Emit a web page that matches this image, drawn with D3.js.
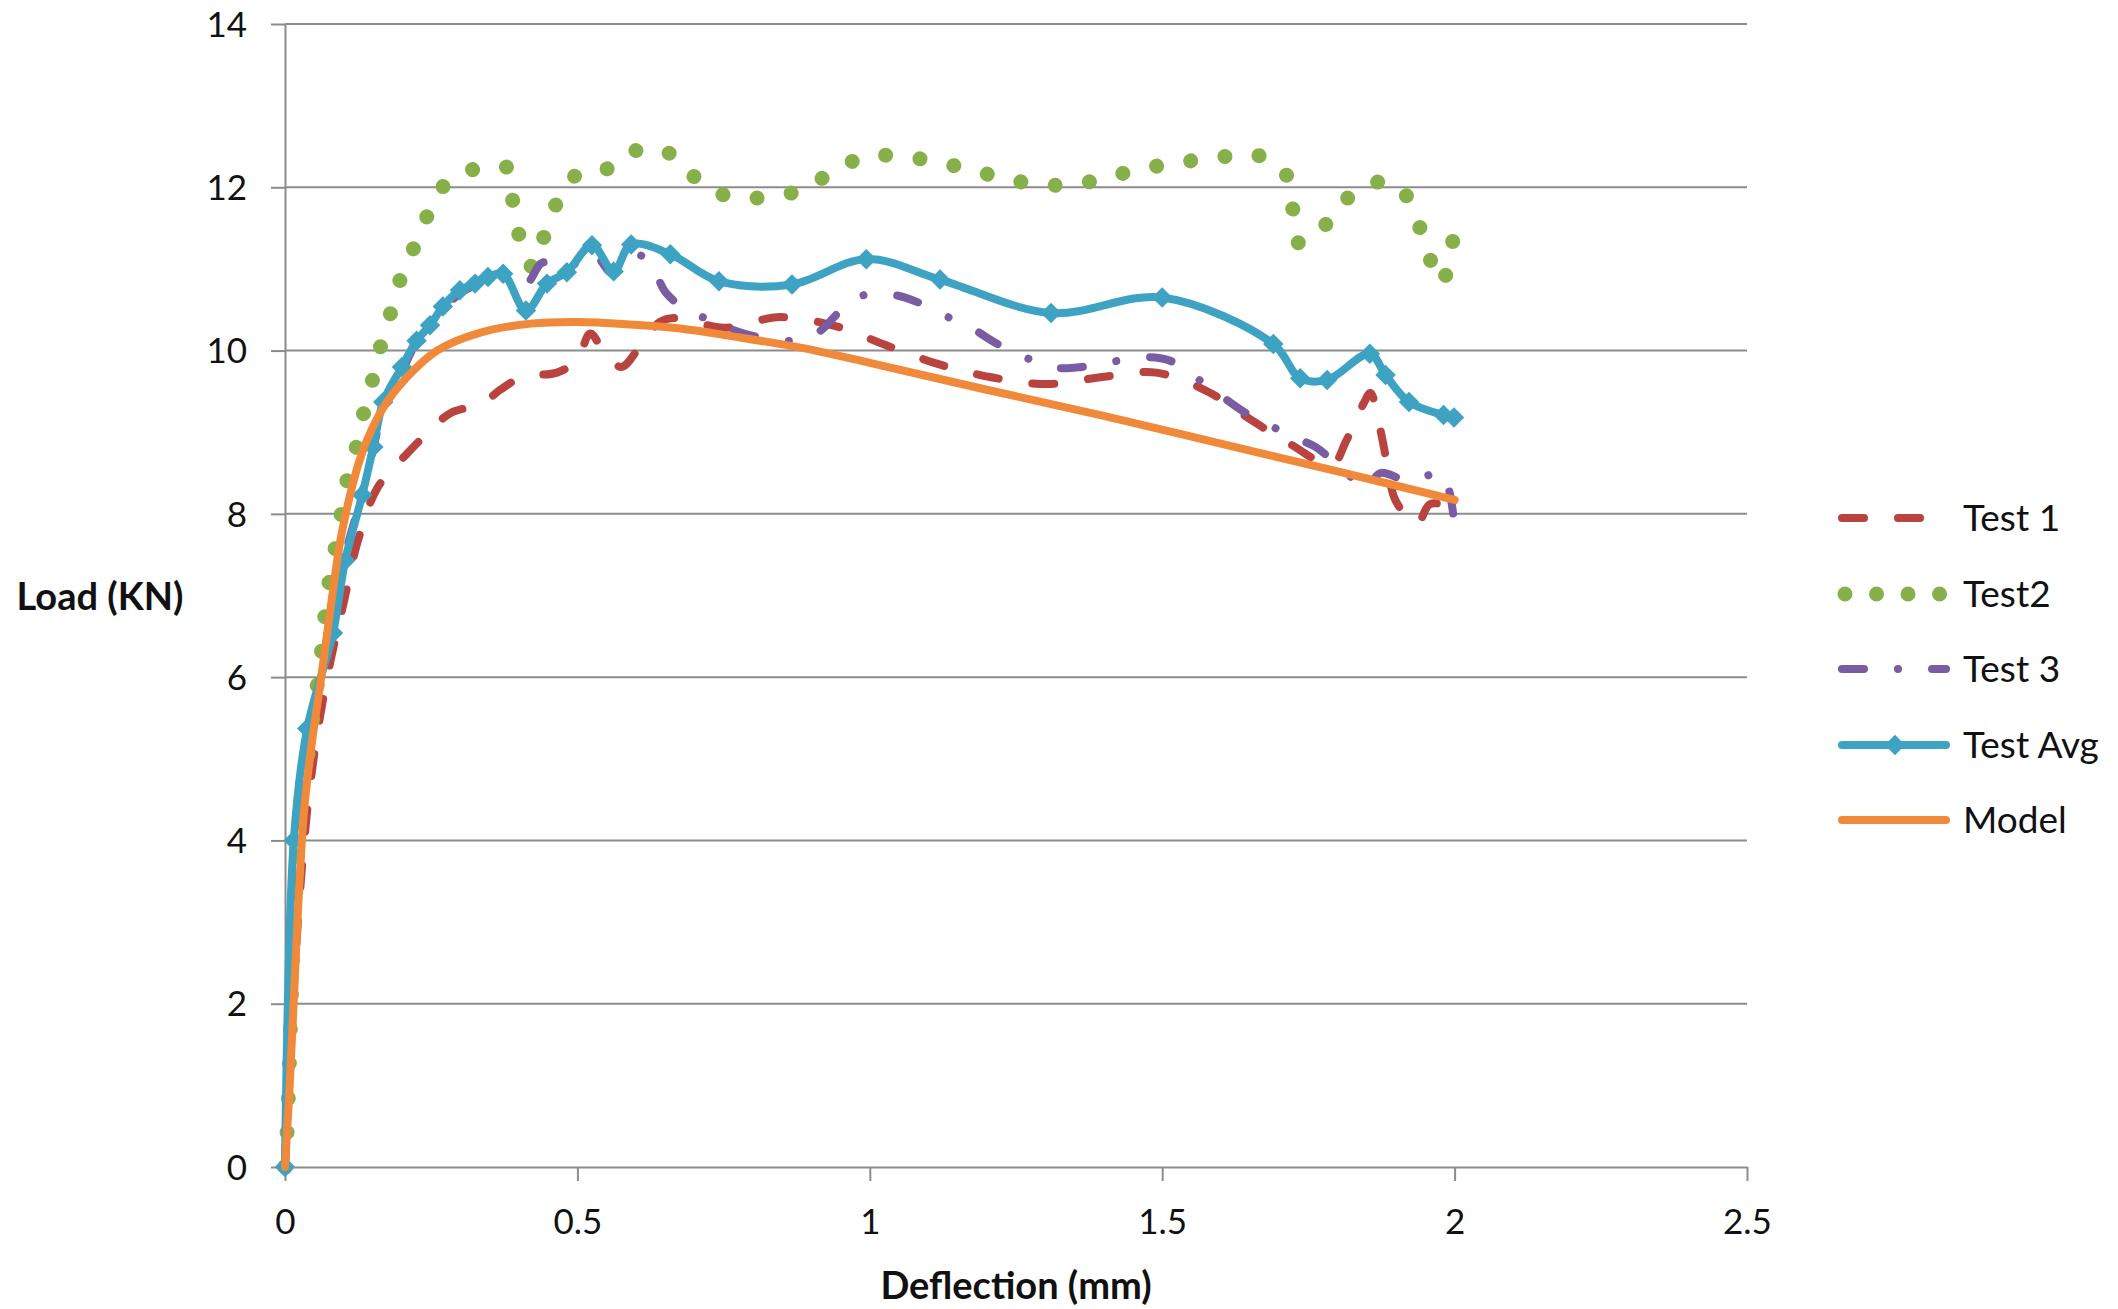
<!DOCTYPE html>
<html>
<head>
<meta charset="utf-8">
<script src="https://cdn.jsdelivr.net/npm/d3@7"></script>
<style>
  body { margin: 0; background: #fff; }
  text { font-family: Lato, "Open Sans", sans-serif; fill: #111; }
  .axis path, .axis line { stroke: #8c8c8c; stroke-width: 2; }
  .grid line { stroke: #8c8c8c; stroke-width: 2; }
</style>
</head>
<body>
<div class="chart"></div>
<script>
// values, [deflection mm, load kN]
var test1 = [[0,0],[0.01,1.5],[0.022,3.0],[0.037,4.3],[0.055,5.3],[0.077,6.17],[0.1,6.9],[0.125,7.68],
  [0.159,8.33],[0.209,8.74],[0.248,9.02],[0.282,9.23],[0.339,9.36],[0.368,9.52],[0.407,9.68],[0.465,9.73],
  [0.499,9.88],[0.522,10.21],[0.544,10.0],[0.575,9.8],[0.607,10.05],[0.641,10.35],[0.67,10.4],[0.75,10.28],
  [0.847,10.41],[0.946,10.29],[1.026,10.07],[1.119,9.83],[1.21,9.67],[1.305,9.59],[1.4,9.68],[1.49,9.73],
  [1.58,9.49],[1.65,9.16],[1.72,8.85],[1.79,8.6],[1.815,8.9],[1.845,9.36],[1.856,9.48],[1.873,9.03],
  [1.885,8.6],[1.9,8.15],[1.936,7.88],[1.958,8.12],[2.0,8.08]];

var test2 = [[0,0],[0.004,0.5],[0.008,1.4],[0.012,2.3],[0.017,3.2],[0.024,4.1],[0.033,4.8],[0.043,5.2],
  [0.051,5.7],[0.06,6.15],[0.072,7.0],[0.082,7.43],[0.094,7.89],[0.103,8.32],[0.12,8.76],[0.133,9.19],
  [0.149,9.62],[0.163,10.04],[0.181,10.47],[0.198,10.89],[0.221,11.27],[0.246,11.69],[0.277,12.06],
  [0.334,12.24],[0.38,12.24],[0.39,11.81],[0.402,11.37],[0.424,11.02],[0.445,11.44],[0.467,11.84],
  [0.505,12.19],[0.559,12.24],[0.611,12.48],[0.667,12.38],[0.71,12.06],[0.763,11.88],[0.824,11.88],
  [0.884,11.97],[0.937,12.19],[0.994,12.38],[1.052,12.38],[1.115,12.31],[1.175,12.21],[1.235,12.1],
  [1.295,12.03],[1.355,12.04],[1.415,12.14],[1.476,12.24],[1.536,12.31],[1.599,12.37],[1.659,12.4],
  [1.709,12.19],[1.723,11.75],[1.733,11.32],[1.767,11.44],[1.803,11.77],[1.853,12.04],[1.902,12.03],
  [1.933,11.65],[1.953,11.23],[1.976,10.83],[1.993,11.12],[1.998,11.55]];

var test3 = [[0,0],[0.012,3.0],[0.022,4.4],[0.04,5.4],[0.08,6.5],[0.1,7.4],[0.13,8.2],[0.151,8.8],
  [0.168,9.3],[0.2,9.75],[0.225,10.1],[0.248,10.3],[0.27,10.5],[0.299,10.7],[0.325,10.8],[0.347,10.88],
  [0.373,10.95],[0.41,10.8],[0.441,11.08],[0.48,11.0],[0.525,11.2],[0.56,10.95],[0.59,11.2],[0.624,11.08],
  [0.65,10.72],[0.68,10.53],[0.727,10.37],[0.76,10.27],[0.8,10.18],[0.87,10.12],[0.915,10.24],[0.946,10.46],
  [0.99,10.68],[1.043,10.68],[1.086,10.58],[1.134,10.41],[1.18,10.25],[1.216,10.09],[1.268,9.91],
  [1.319,9.79],[1.363,9.8],[1.413,9.86],[1.466,9.92],[1.512,9.88],[1.555,9.68],[1.6,9.45],[1.64,9.25],
  [1.68,9.1],[1.724,8.94],[1.762,8.82],[1.8,8.6],[1.85,8.33],[1.873,8.5],[1.923,8.4],[1.976,8.5],
  [1.99,8.3],[2.0,7.85]];

var testAvg = [[0,0],[0.015,4.0],[0.038,5.37],[0.082,6.54],[0.103,7.43],[0.132,8.23],[0.151,8.82],
  [0.168,9.37],[0.2,9.8],[0.225,10.12],[0.248,10.31],[0.27,10.54],[0.299,10.74],[0.325,10.82],[0.347,10.9],
  [0.373,10.94],[0.412,10.49],[0.448,10.82],[0.482,10.96],[0.525,11.29],[0.562,10.97],[0.592,11.3],
  [0.659,11.18],[0.742,10.85],[0.867,10.81],[0.994,11.12],[1.12,10.87],[1.31,10.46],[1.5,10.65],
  [1.69,10.08],[1.736,9.66],[1.782,9.64],[1.855,9.96],[1.882,9.7],[1.922,9.37],[1.981,9.21],[1.999,9.18]];

var model = [[0,0],[0.008,1.0],[0.016,2.2],[0.024,3.4],[0.033,4.4],[0.046,5.2],[0.062,6.0],[0.078,6.85],
  [0.098,7.8],[0.132,8.75],[0.168,9.3],[0.208,9.67],[0.26,10.0],[0.334,10.22],[0.42,10.33],[0.5,10.35],
  [0.59,10.32],[0.676,10.27],[0.76,10.18],[0.886,10.03],[1.0,9.85],[1.2,9.52],[1.4,9.2],[1.6,8.86],
  [1.8,8.52],[2.0,8.17]];

var seriesNames = ["Test 1", "Test2", "Test 3", "Test Avg", "Model"];
var xTicks = [0, 0.5, 1, 1.5, 2, 2.5];
var yTicks = [0, 2, 4, 6, 8, 10, 12, 14];

var margin = {top: 24, right: 371, bottom: 142, left: 285};
var width = 2118 - margin.left - margin.right;
var height = 1309 - margin.top - margin.bottom;

var x = d3.scaleLinear().domain([0, 2.5]).range([0, width]);
var y = d3.scaleLinear().domain([0, 14]).range([height, 0]);

var svg = d3.select(".chart").append("svg")
    .attr("width", width + margin.left + margin.right)
    .attr("height", height + margin.top + margin.bottom)
    .style("display", "block");

svg.append("rect").attr("width", 2118).attr("height", 1309).attr("fill", "#fff");

var g = svg.append("g")
    .attr("transform", "translate(" + margin.left + "," + margin.top + ")");

// horizontal gridlines
g.append("g").attr("class", "grid")
  .selectAll("line")
    .data(yTicks.slice(1))
  .enter().append("line")
    .attr("x1", 0).attr("x2", width)
    .attr("y1", function(d) { return y(d); })
    .attr("y2", function(d) { return y(d); });

var xAxis = d3.axisBottom(x).tickValues(xTicks).tickSize(14).tickSizeOuter(0)
    .tickFormat(function(d) { return d; });
var yAxis = d3.axisLeft(y).tickValues(yTicks).tickSize(14).tickSizeOuter(0)
    .tickFormat(function(d) { return d; });

var gx = g.append("g").attr("class", "x axis")
    .attr("transform", "translate(0," + height + ")")
    .call(xAxis);
gx.selectAll("text")
    .attr("y", 55).attr("dy", "0.35em")
    .style("font-size", "35px").style("font-family", "Lato, sans-serif").attr("fill", "#111");

var gy = g.append("g").attr("class", "y axis").call(yAxis);
gy.selectAll("text")
    .attr("x", -38).attr("dy", "0.35em")
    .style("font-size", "35px").style("font-family", "Lato, sans-serif").attr("fill", "#111");

svg.append("text")
    .attr("x", margin.left + width / 2).attr("y", 1286).attr("dy", "0.35em")
    .attr("text-anchor", "middle")
    .style("font-size", "38px").style("font-weight", "bold")
    .text("Deflection (mm)");

svg.append("text")
    .attr("x", 100).attr("y", 597).attr("dy", "0.35em")
    .attr("text-anchor", "middle")
    .style("font-size", "38px").style("font-weight", "bold")
    .text("Load (KN)");

// series styles
var styles = [
  {data: test1, color: "#b8433f", width: 8, dash: "22,34", cap: "round"},
  {data: test2, color: "#88b04a", width: 15, dash: "0.01,34.5", cap: "round"},
  {data: test3, color: "#7a5ca2", width: 8, dash: "22,34,0.01,34", cap: "round"},
  {data: testAvg, color: "#3ea3c3", width: 8, dash: null, cap: "round"},
  {data: model, color: "#f08a3a", width: 8, dash: null, cap: "round"}
];

var line = d3.line()
    .x(function(d) { return x(d[0]); })
    .y(function(d) { return y(d[1]); })
    .curve(d3.curveCatmullRom.alpha(0.5));

var diamond = d3.symbol().type(d3.symbolSquare).size(210);

styles.forEach(function(s, i) {
  g.append("path")
      .datum(s.data)
      .attr("fill", "none")
      .attr("stroke", s.color)
      .attr("stroke-width", s.width)
      .attr("stroke-linecap", s.cap)
      .attr("stroke-linejoin", "round")
      .attr("stroke-dasharray", s.dash)
      .attr("d", line);
  if (s.data === testAvg) {
    g.selectAll(".marker")
        .data(s.data)
      .enter().append("path")
        .attr("class", "marker")
        .attr("fill", s.color)
        .attr("transform", function(d) { return "translate(" + x(d[0]) + "," + y(d[1]) + ") rotate(45)"; })
        .attr("d", diamond);
  }
});

// legend
var legend = svg.append("g").attr("class", "legend");
var legendY = [518, 594, 669, 745, 820];
seriesNames.forEach(function(name, i) {
  var s = styles[i];
  var row = legend.append("g").attr("transform", "translate(0," + legendY[i] + ")");
  var x1 = s.data === test2 ? 1845 : 1842;
  row.append("line")
      .attr("x1", x1).attr("x2", 1946)
      .attr("y1", 0).attr("y2", 0)
      .attr("stroke", s.color)
      .attr("stroke-width", s.width)
      .attr("stroke-linecap", s.cap)
      .attr("stroke-dasharray", s.data === test2 ? "0.01,31.5" : s.dash);
  if (s.data === testAvg) {
    row.append("path")
        .attr("fill", s.color)
        .attr("transform", "translate(1895,0) rotate(45)")
        .attr("d", diamond);
  }
  row.append("text")
      .attr("x", 1963).attr("y", 0).attr("dy", "0.35em")
      .style("font-size", "37px")
      .text(name);
});
</script>
</body>
</html>
